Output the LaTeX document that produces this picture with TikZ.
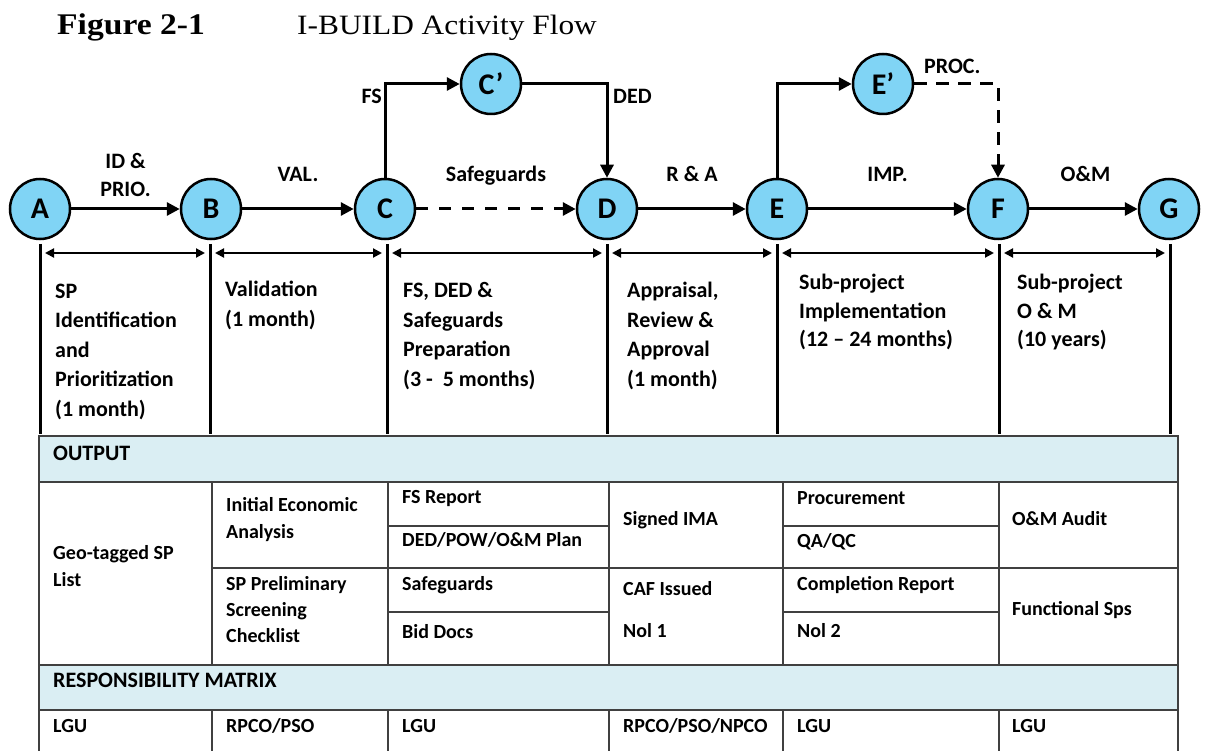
\documentclass[tikz,border=0pt]{standalone}
\usepackage{fontspec}
\setmainfont{Carlito}
\newfontfamily\titlefont[FakeStretch=1.12]{Liberation Serif}
\usepackage{tikz}
\usetikzlibrary{arrows.meta, calc, positioning}
\definecolor{stageblue}{RGB}{128,212,245}
\definecolor{bandblue}{RGB}{218,238,243}
\definecolor{rulegray}{RGB}{64,64,64}

\begin{document}
\begin{tikzpicture}[x=1pt, y=-1pt, >={Triangle[length=13pt,width=13pt]},
    stage/.style={draw, circle, line width=2.5pt, fill=stageblue, minimum size=60pt, inner sep=0pt, font=\bfseries\fontsize{30}{30}\selectfont},
    flow/.style={->, line width=3pt},
    vline/.style={line width=3pt},
    spanarrow/.style={{Triangle[length=9pt,width=9pt]}-{Triangle[length=9pt,width=9pt]}, line width=2pt, shorten <=5pt, shorten >=5pt},
    lbl/.style={inner sep=0pt, align=center, font=\bfseries\fontsize{22}{28}\selectfont},
    phase/.style={anchor=base west, inner sep=0pt, align=left, font=\bfseries\fontsize{22}{29.5}\selectfont},
    cell/.style={anchor=base west, inner sep=0pt, align=left, font=\bfseries\fontsize{20}{26.5}\selectfont},
    bandhead/.style={anchor=base west, inner sep=0pt, font=\bfseries\fontsize{22}{22}\selectfont},
    tablerule/.style={draw=rulegray, line width=1.5pt}]
    \useasboundingbox (0,0) rectangle (1205,751);

    % Title
    \node[anchor=base west, inner sep=0pt, font=\titlefont\bfseries\fontsize{30}{30}\selectfont] (figno) at (57,35) {Figure 2-1};
    \node[anchor=base west, inner sep=0pt, font=\titlefont\fontsize{28}{28}\selectfont] (figtitle) at (297,35) {I-BUILD Activity Flow};

    % Stages
    \node[stage] (A) at (40,209) {A};
    \node[stage] (B) at (211,209) {B};
    \node[stage] (C) at (385,209) {C};
    \node[stage] (D) at (607,209) {D};
    \node[stage] (E) at (777,209) {E};
    \node[stage] (F) at (998,209) {F};
    \node[stage] (G) at (1169,209) {G};
    \node[stage] (Cp) at (491,84) {C’};
    \node[stage] (Ep) at (883,84) {E’};

    % Main flow
    \draw[flow] (A) -- node[lbl, anchor=base, yshift=12pt] {ID \&\\PRIO.} (B);
    \draw[flow] (B) -- node[lbl, anchor=base, yshift=27pt] {VAL.} (C);
    \draw[flow, dash pattern=on 12pt off 11pt] (C) -- node[lbl, anchor=base, yshift=27pt] {Safeguards} (D);
    \draw[flow] (D) -- node[lbl, anchor=base, yshift=27pt] {R \& A} (E);
    \draw[flow] (E) -- node[lbl, anchor=base, yshift=27pt] {IMP.} (F);
    \draw[flow] (F) -- node[lbl, anchor=base, xshift=2pt, yshift=27pt] {O\&M} (G);

    % Side branches
    \draw[flow] (C.north) |- (Cp);
    \draw[flow] (Cp) -| (D.north);
    \draw[flow] (E.north) |- (Ep);
    \draw[flow, dash pattern=on 13pt off 9pt] (Ep) -| (F.north);
    \node[lbl, anchor=base east] (fs) at (382,104) {FS};
    \node[lbl, anchor=base west] (ded) at (613,104) {DED};
    \node[lbl, anchor=base west] (proc) at (924,74) {PROC.};

    % Phase bars
    \foreach \n/\x in {A/40, B/210, C/387, D/607, E/777, F/999, G/1170} {
        \coordinate (\n t) at (\x,244);
        \coordinate (\n m) at (\x,253);
        \coordinate (\n b) at (\x,434);
        \draw[vline] (\n t) -- (\n b);
    }
    \foreach \p/\q in {A/B, B/C, C/D, D/E, E/F, F/G}
        \draw[spanarrow] (\p m) -- (\q m);

    % Phase texts (placed by their last line)
    \node[phase] (phaseA) at (55,416) {SP\\Identification\\and\\Prioritization\\(1 month)};
    \node[phase] (phaseB) at (225,326.5) {Validation\\(1 month)};
    \node[phase] (phaseC) at (403,386) {FS, DED \&\\Safeguards\\Preparation\\(3 -~ 5 months)};
    \node[phase] (phaseD) at (627,386) {Appraisal,\\Review \&\\Approval\\(1 month)};
    \node[phase, font=\bfseries\fontsize{22}{28.5}\selectfont] (phaseE) at (799,347) {Sub-project\\Implementation\\(12 – 24 months)};
    \node[phase, font=\bfseries\fontsize{22}{28.5}\selectfont] (phaseF) at (1017,347) {Sub-project\\O \& M\\(10 years)};

    % Table
    \draw[tablerule, fill=bandblue] (39,436) rectangle (1178,482);
    \draw[tablerule, fill=bandblue] (39,665) rectangle (1178,710);
    \draw[tablerule] (39,482) -- (39,751) (1178,482) -- (1178,751);
    \foreach \x in {212,388,609,783,999}
        \draw[tablerule] (\x,482) -- (\x,665) (\x,710) -- (\x,751);
    \draw[tablerule] (212,568) -- (1178,568);
    \draw[tablerule] (388,526) -- (609,526) (388,612) -- (609,612);
    \draw[tablerule] (783,526) -- (999,526) (783,612) -- (999,612);
    \node[bandhead] (output) at (53,460) {OUTPUT};
    \node[bandhead] (matrix) at (53,687) {RESPONSIBILITY MATRIX};

    % Output cells
    \node[cell] (geo) at (53,586) {Geo-tagged SP\\List};
    \node[cell] (iea) at (226,538) {Initial Economic\\Analysis};
    \node[cell, font=\bfseries\fontsize{20}{26}\selectfont] (spl) at (226,642) {SP Preliminary\\Screening\\Checklist};
    \node[cell] (fsr) at (402,503) {FS Report};
    \node[cell] (dedplan) at (402,546) {DED/POW/O\&M Plan};
    \node[cell] (sfg) at (402,590) {Safeguards};
    \node[cell] (bid) at (402,638) {Bid Docs};
    \node[cell] (ima) at (623,525) {Signed IMA};
    \node[cell] (caf) at (623,595) {CAF Issued};
    \node[cell] (nol1) at (623,637) {Nol 1};
    \node[cell] (procure) at (797,504) {Procurement};
    \node[cell] (qaqc) at (797,547) {QA/QC};
    \node[cell] (comp) at (797,590) {Completion Report};
    \node[cell] (nol2) at (797,637) {Nol 2};
    \node[cell] (oma) at (1012,525) {O\&M Audit};
    \node[cell] (fsps) at (1012,615) {Functional Sps};

    % Responsibility cells
    \node[cell] (respA) at (53,732) {LGU};
    \node[cell] (respB) at (226,732) {RPCO/PSO};
    \node[cell] (respC) at (402,732) {LGU};
    \node[cell] (respD) at (623,732) {RPCO/PSO/NPCO};
    \node[cell] (respE) at (797,732) {LGU};
    \node[cell] (respF) at (1012,732) {LGU};
\end{tikzpicture}
\end{document}
